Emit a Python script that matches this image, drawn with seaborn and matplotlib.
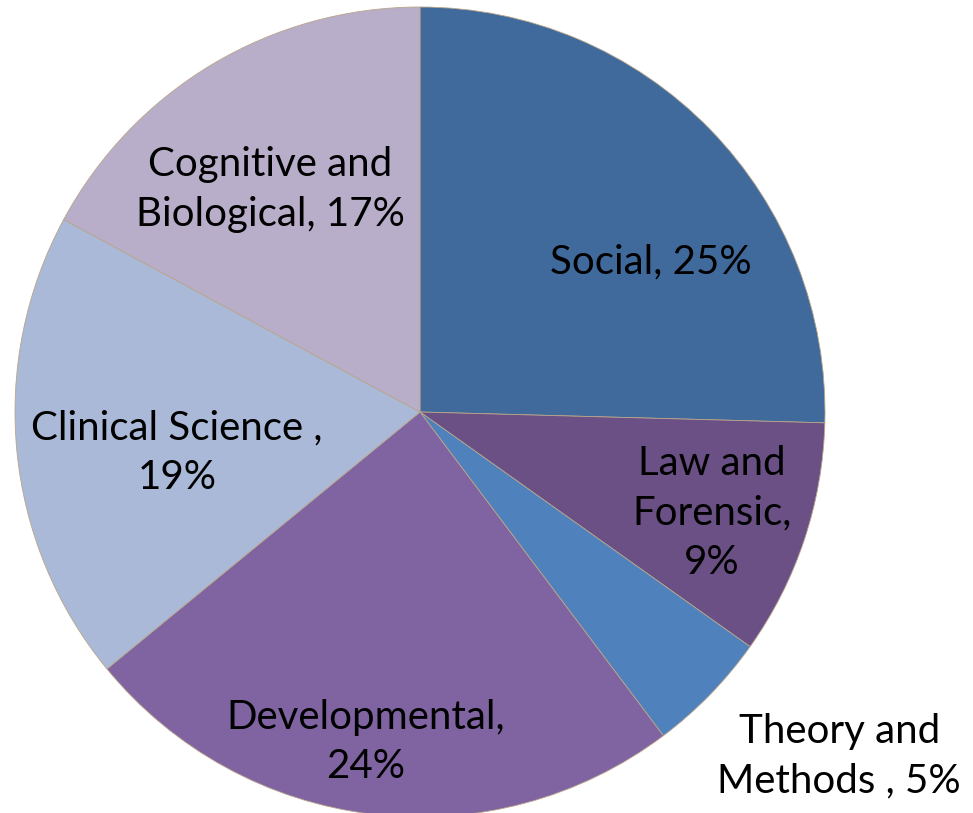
import matplotlib
matplotlib.use("Agg")
import matplotlib.pyplot as plt
import seaborn as sns
import numpy as np

sns.set_theme(style="white")
plt.rcParams['font.family'] = ['Lato', 'DejaVu Sans']

categories = ["Social", "Law and Forensic", "Theory and Methods", "Developmental",
              "Clinical Science", "Cognitive and Biological"]
values = [25.4, 9.4, 4.9, 24.3, 18.8, 17.1]
labels = ["Social, 25%", "Law and\nForensic,\n9%", "Theory and\nMethods , 5%",
          "Developmental,\n24%", "Clinical Science ,\n19%", "Cognitive and\nBiological, 17%"]
colors = ["#406A9C", "#6A5085", "#4F81BD", "#8064A2", "#AAB9D7", "#B8AECA"]

# label offsets (fractions of radius) relative to pie centre
label_pos = [(0.57, 0.37), (0.72, -0.25), (1.035, -0.85), (-0.135, -0.815),
             (-0.60, -0.10), (-0.37, 0.55)]

W, H = 973, 813
cx, cy, R = 420, 412, 405
fig = plt.figure(figsize=(W / 100, H / 100), dpi=100)
ax = fig.add_axes([0, 0, 1, 1])
ax.set_xlim(-cx, W - cx)
ax.set_ylim(-(H - cy), cy)
ax.axis("off")

wedges, _ = ax.pie(values, colors=colors, startangle=90, counterclock=False,
                   radius=R, center=(0, 0),
                   wedgeprops=dict(edgecolor="#B9A58A", linewidth=0.6))
ax.set_xlim(-cx, W - cx)
ax.set_ylim(-(H - cy), cy)
ax.set_aspect("auto")

for lab, (fx, fy) in zip(labels, label_pos):
    ax.text(fx * R, fy * R, lab, ha="center", va="center", fontsize=29,
            color="black", linespacing=1.42)

fig.savefig("out.png", dpi=100)
